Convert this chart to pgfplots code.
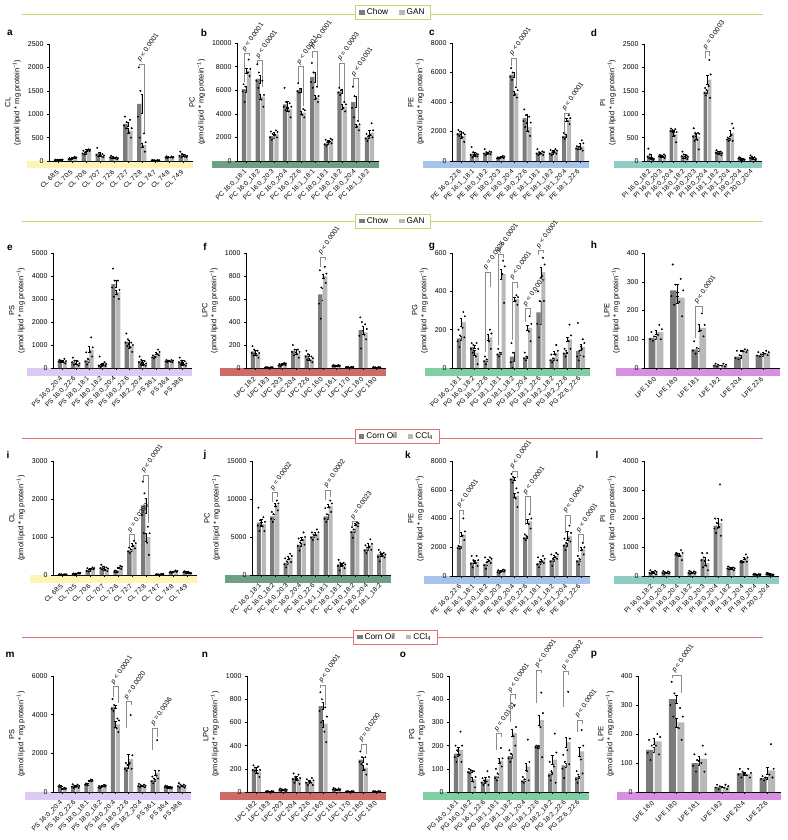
\documentclass[border=0pt]{standalone}
\usepackage{pgfplots}
\pgfplotsset{compat=1.18}
\usepackage{pgfplotstable}
\usepackage{fontspec}
\setmainfont{Liberation Sans}

\definecolor{dk}{HTML}{7B7B7B}
\definecolor{lt}{HTML}{B9B9B9}
\definecolor{bCL}{HTML}{FCF5B3}
\definecolor{bPC}{HTML}{6F9E87}
\definecolor{bPE}{HTML}{A7C3EA}
\definecolor{bPI}{HTML}{8FCDC4}
\definecolor{bPS}{HTML}{DCCAF5}
\definecolor{bLPC}{HTML}{CF6B66}
\definecolor{bPG}{HTML}{80CFA4}
\definecolor{bLPE}{HTML}{D690E0}
\definecolor{lnG}{HTML}{C9D670}
\definecolor{lnR}{HTML}{E27272}
\definecolor{brkc}{HTML}{8C8C8C}

\newcommand\unitl{(pmol lipid * mg protein\textsuperscript{−1})}
\newcommand\pl{\textit{p} < 0.0001}
\newcommand\pe[1]{\textit{p} = #1}
\newcommand\pbr[6]{\draw[brk] (axis cs:#1,#4) -- (axis cs:#1,#3) -- node[ptx]{#6} (axis cs:#2,#3) -- (axis cs:#2,#5);}

\tikzset{
  brk/.style={brkc, line width=0.5pt},
  ptx/.style={rotate=55, anchor=south west, inner sep=0.8pt, text=black, font=\fontsize{6.8}{8}\selectfont},
}

\pgfplotsset{
  lip/.style={
    scale only axis, anchor=south west, ymin=0, clip=false,
    axis x line*=bottom, axis y line*=left,
    axis line style={line width=0.5pt, black},
    xtick={0,...,9}, xmin=-0.7, xmax=9.7,
    tick align=outside, major tick length=2pt,
    tick style={black, line width=0.4pt},
    tick label style={font=\fontsize{7}{8}\selectfont},
    xticklabel style={rotate=45, anchor=east, font=\fontsize{6.6}{7}\selectfont, inner sep=1pt},
    xticklabel shift=7pt,
    ylabel style={align=center, font=\fontsize{7.5}{9}\selectfont},
    /pgf/number format/1000 sep={},
    /pgf/number format/assume math mode=true,
    scaled y ticks=false,
    bar width=0.31,
    legend image code/.code={\fill[##1] (0pt,-2.3pt) rectangle (5.5pt,2.3pt);},
  },
  dkb/.style={ybar, fill=dk, draw=none, bar shift=-0.185,
    error bars/.cd, y dir=both, y explicit,
    error bar style={black, line width=0.4pt},
    error mark options={rotate=90, mark size=1.2pt, line width=0.4pt, black}},
  ltb/.style={ybar, fill=lt, draw=none, bar shift=0.185,
    error bars/.cd, y dir=both, y explicit,
    error bar style={black, line width=0.4pt},
    error mark options={rotate=90, mark size=1.2pt, line width=0.4pt, black}},
  dotm/.style={only marks, mark=*, mark size=0.75pt, black, forget plot},
  fCL/.style={xticklabels={CL 68:5, CL 70:5, CL 70:6, CL 70:7, CL 72:6, CL 72:7, CL 72:8, CL 74:7, CL 74:8, CL 74:9}, ylabel={CL\\\unitl}},
  fPC/.style={xticklabels={PC 16:0\_18:1, PC 16:0\_18:2, PC 16:0\_20:3, PC 16:0\_20:4, PC 16:0\_22:6, PC 16:1\_18:1, PC 18:0\_18:1, PC 18:0\_18:2, PC 18:0\_20:4, PC 18:1\_18:2}, ylabel={PC\\\unitl}},
  fPE/.style={xticklabels={PE 16:0\_22:6, PE 16:1\_18:1, PE 18:0\_18:2, PE 18:0\_20:3, PE 18:0\_20:4, PE 18:0\_22:6, PE 18:1\_18:1, PE 18:1\_18:2, PE 18:1\_20:4, PE 18:1\_22:6}, ylabel={PE\\\unitl}},
  fPI/.style={xticklabels={PI 16:0\_18:2, PI 16:0\_20:3, PI 16:0\_20:4, PI 18:0\_18:2, PI 18:0\_20:3, PI 18:0\_20:4, PI 18:1\_18:2, PI 18:1\_20:4, PI 19:0\_20:4, PI 20:0\_20:4}, ylabel={PI\\\unitl}},
  fPS/.style={xticklabels={PS 16:0\_20:4, PS 16:0\_22:6, PS 18:0\_18:1, PS 18:0\_18:2, PS 18:0\_20:4, PS 18:0\_22:6, PS 18:2\_20:4, PS 36:1, PS 36:4, PS 38:6}, ylabel={PS\\\unitl}},
  fLPC/.style={xticklabels={LPC 18:2, LPC 18:3, LPC 20:3, LPC 20:4, LPC 22:6, LPC 16:0, LPC 16:1, LPC 17:0, LPC 18:0, LPC 19:0}, ylabel={LPC\\\unitl}},
  fPG/.style={xticklabels={PG 16:0\_18:1, PG 16:0\_18:2, PG 16:1\_22:6, PG 18:1\_18:1, PG 18:1\_18:2, PG 18:1\_20:4, PG 18:1\_22:6, PG 18:2\_18:2, PG 18:2\_22:6, PG 22:6\_22:6}, ylabel={PG\\\unitl}},
  fLPE/.style={xtick={0,...,5}, xticklabels={LPE 16:0, LPE 18:0, LPE 18:1, LPE 18:2, LPE 20:4, LPE 22:6}, ylabel={LPE\\\unitl}},
  legG/.style={legend columns=2, legend style={anchor=center, draw=lnG, line width=0.8pt, fill=white, font=\fontsize{8.3}{9}\selectfont, inner xsep=4pt, inner ysep=1.2pt, /tikz/every even column/.append style={column sep=9pt}}},
  legR/.style={legend columns=2, legend style={anchor=center, draw=lnR, line width=0.8pt, fill=white, font=\fontsize{8.3}{9}\selectfont, inner xsep=4pt, inner ysep=1.2pt, /tikz/every even column/.append style={column sep=9pt}}},
}

% dots: four readings per bar, drawn with a small fixed horizontal spread
\newcommand\dotsp[1]{%
\addplot[dotm] table[x expr=\thisrow{x}-0.145, y=c1] {#1};
\addplot[dotm] table[x expr=\thisrow{x}-0.275, y=c2] {#1};
\addplot[dotm] table[x expr=\thisrow{x}-0.095, y=c3] {#1};
\addplot[dotm] table[x expr=\thisrow{x}-0.215, y=c4] {#1};
\addplot[dotm] table[x expr=\thisrow{x}+0.225, y=g1] {#1};
\addplot[dotm] table[x expr=\thisrow{x}+0.095, y=g2] {#1};
\addplot[dotm] table[x expr=\thisrow{x}+0.275, y=g3] {#1};
\addplot[dotm] table[x expr=\thisrow{x}+0.155, y=g4] {#1};
}
\newcommand\bars[1]{%
\addplot[dkb] table[x=x,y=c,y error=ce] {#1};
\addplot[ltb] table[x=x,y=g,y error=ge] {#1};
}

\pgfplotstableread{
x c ce g ge c1 c2 c3 c4 g1 g2 g3 g4
0 20 3 25 3 15 18 24 30 20 24 27 30
1 40 5 70 8 30 38 45 60 60 66 75 90
2 170 15 230 12 140 160 185 220 210 225 240 250
3 160 25 110 15 100 130 175 280 80 100 120 150
4 80 10 60 8 60 75 90 110 40 55 65 80
5 790 40 650 50 700 760 830 950 500 600 700 880
6 1220 200 340 50 500 950 1500 2000 200 300 400 590
7 15 2 15 2 10 14 17 20 10 14 16 20
8 80 8 80 6 60 75 90 100 70 78 85 95
9 130 20 100 8 80 110 150 200 80 95 105 120
}\tA
\pgfplotstableread{
x c ce g ge c1 c2 c3 c4 g1 g2 g3 g4
0 6100 250 7650 200 5000 5900 6300 6500 7200 7500 7800 8600
1 6950 350 5450 250 6200 6800 7500 8200 4600 5200 5600 6800
2 2100 150 2300 100 1800 2000 2300 2500 2000 2200 2450 2600
3 4800 300 4400 200 4300 4600 5000 6200 3700 4200 4600 4900
4 6000 150 4100 150 5800 5900 6100 6600 3700 3900 4300 4400
5 7100 400 5400 200 6200 6700 7500 8300 5000 5300 5500 6300
6 1500 100 1700 100 1300 1400 1600 1800 1500 1650 1800 1900
7 5900 150 4600 200 5600 5800 6000 6200 4200 4500 4800 5000
8 5000 450 3000 150 3700 4500 5500 6300 2600 2900 3100 3400
9 2000 100 2400 200 1700 1900 2100 2300 2000 2200 2600 3200
}\tB
\pgfplotstableread{
x c ce g ge c1 c2 c3 c4 g1 g2 g3 g4
0 1900 100 1680 120 1700 1800 2000 2100 1300 1600 1800 1900
1 500 80 400 50 250 400 600 950 300 350 450 500
2 550 60 550 50 400 500 600 800 450 500 600 650
3 200 20 280 30 150 180 220 250 200 250 300 350
4 5850 200 4600 150 5500 5700 6000 6300 4300 4500 4800 5000
5 2900 250 2300 250 2300 2700 3100 3500 1700 2000 2600 3000
6 550 60 550 50 400 500 600 800 400 500 600 650
7 550 60 650 60 400 500 600 750 500 600 700 800
8 1700 100 2800 120 1500 1600 1800 1900 2500 2700 2900 3100
9 900 80 1000 200 800 850 950 1000 700 850 1200 1400
}\tC
\pgfplotstableread{
x c ce g ge c1 c2 c3 c4 g1 g2 g3 g4
0 120 30 40 10 60 90 140 265 20 30 45 60
1 110 10 100 15 90 100 120 130 60 90 110 140
2 650 15 570 40 630 640 660 690 400 540 620 680
3 120 25 80 15 60 100 140 200 40 70 90 120
4 560 40 520 60 430 520 600 700 250 450 580 600
5 1480 30 1740 90 1400 1450 1520 1560 1350 1600 1850 2160
6 190 15 160 15 160 180 200 230 120 150 170 200
7 470 20 600 60 430 460 480 500 430 550 700 800
8 60 8 30 5 40 55 65 80 20 28 32 40
9 80 10 40 8 50 70 90 120 20 35 45 80
}\tD
\pgfplotstableread{
x c ce g ge c1 c2 c3 c4 g1 g2 g3 g4
0 300 20 280 40 250 280 320 350 200 250 300 400
1 280 50 180 30 150 250 320 450 100 150 200 300
2 330 60 800 130 150 280 400 680 500 700 900 1330
3 150 60 150 30 50 100 150 500 80 130 170 250
4 3650 150 3300 100 3100 3500 3800 4320 3000 3200 3400 3800
5 1150 60 950 80 950 1100 1250 1500 700 900 1000 1100
6 300 40 170 30 150 250 350 500 100 150 200 300
7 480 20 650 50 420 460 500 550 550 600 700 800
8 300 20 300 20 250 280 320 350 250 280 320 350
9 280 40 170 30 150 250 320 450 100 150 200 300
}\tE
\pgfplotstableread{
x c ce g ge c1 c2 c3 c4 g1 g2 g3 g4
0 145 12 120 10 110 130 160 190 90 110 130 150
1 5 1 5 1 3 4 6 8 3 4 6 8
2 25 4 35 4 15 22 28 35 25 32 38 45
3 150 12 130 10 110 140 160 200 90 120 140 160
4 110 10 75 8 70 100 120 150 50 65 85 100
5 640 50 800 20 430 560 700 850 740 780 820 880
6 20 2 20 2 15 18 22 25 15 18 22 25
7 8 1 8 1 5 7 9 10 5 7 9 10
8 330 35 310 20 170 280 400 440 250 290 340 380
9 5 1 5 1 3 4 6 8 3 4 6 8
}\tF
\pgfplotstableread{
x c ce g ge c1 c2 c3 c4 g1 g2 g3 g4
0 155 12 240 20 110 140 170 200 160 210 270 292
1 110 8 80 15 80 100 120 130 20 60 100 130
2 40 5 160 15 20 35 45 60 100 140 180 200
3 75 5 490 25 60 70 80 100 340 490 530 560
4 60 25 360 12 0 30 80 130 330 350 370 380
5 55 5 210 15 40 50 60 80 140 190 230 270
6 290 60 500 25 160 230 350 400 350 480 540 575
7 45 5 80 10 30 40 50 70 40 70 90 120
8 80 5 150 12 60 75 90 100 100 140 170 226
9 90 25 110 15 40 60 90 235 60 100 130 150
}\tG
\pgfplotstableread{
x c ce g ge c1 c2 c3 c4 g1 g2 g3 g4
0 105 5 125 8 95 100 110 125 100 115 135 150
1 270 20 245 20 220 250 290 360 180 230 270 310
2 65 5 140 12 50 60 70 93 110 130 150 190
3 10 1 10 1 5 8 12 15 5 8 12 15
4 40 5 60 2 30 35 45 60 55 58 62 65
5 45 4 52 3 40 43 48 55 45 50 55 60
}\tH
\pgfplotstableread{
x c ce g ge c1 c2 c3 c4 g1 g2 g3 g4
0 15 2 15 2 10 13 17 20 10 13 17 20
1 30 4 50 5 20 28 35 40 40 45 55 60
2 130 20 170 10 90 110 150 180 150 160 180 200
3 200 20 150 20 150 180 220 270 100 130 170 200
4 90 10 200 15 70 85 100 120 160 190 220 240
5 650 30 800 40 580 620 680 720 700 760 840 900
6 1830 200 1000 100 1100 1580 2150 2456 530 850 1100 1270
7 15 2 25 3 10 13 17 20 20 23 27 30
8 70 8 100 8 50 65 80 90 80 95 105 120
9 80 8 50 5 60 75 85 100 40 45 55 60
}\tI
\pgfplotstableread{
x c ce g ge c1 c2 c3 c4 g1 g2 g3 g4
0 6900 400 6700 300 5800 6500 7200 8860 5800 6400 7000 7600
1 7700 300 9200 200 7000 7400 8000 8300 8500 9000 9400 9800
2 1600 150 2300 200 1000 1400 1800 2200 1700 2100 2500 2800
3 4000 200 4800 200 3200 3800 4300 4800 4000 4600 5000 5600
4 5100 150 5400 200 4600 4900 5300 5600 4700 5200 5600 6000
5 7700 300 9100 200 7000 7400 8000 8800 8300 8900 9400 9800
6 1400 150 1300 150 600 1200 1600 2000 900 1200 1400 1600
7 5800 200 6700 100 4900 5600 6000 6300 6400 6600 6800 6900
8 3400 200 3900 250 2900 3200 3600 3900 3300 3700 4100 4700
9 2700 200 2600 100 1800 2400 3000 3300 2300 2500 2700 2900
}\tJ
\pgfplotstableread{
x c ce g ge c1 c2 c3 c4 g1 g2 g3 g4
0 2000 80 2900 150 1900 1950 2050 2100 2500 2800 3100 4010
1 950 80 1000 80 600 850 1100 1400 700 900 1100 1400
2 850 80 1100 60 500 750 950 1300 900 1050 1200 1300
3 300 30 370 30 200 270 330 400 300 350 400 450
4 6800 100 5600 150 6500 6700 6900 7100 4800 5400 5800 6100
5 2700 100 3800 150 2500 2600 2800 2900 3300 3600 4000 4300
6 900 80 1100 50 600 800 1000 1300 900 1000 1200 1400
7 1100 100 1400 60 700 1000 1200 1500 1200 1300 1500 1600
8 2200 100 2800 300 1800 2100 2300 2600 2400 2600 3000 3500
9 1100 80 1900 100 800 1000 1200 1400 1500 1800 2000 2300
}\tK
\pgfplotstableread{
x c ce g ge c1 c2 c3 c4 g1 g2 g3 g4
0 130 20 120 15 80 110 150 200 60 100 140 180
1 120 15 120 10 80 110 140 170 80 110 130 160
2 760 20 750 50 720 750 780 800 550 700 800 900
3 130 15 120 10 80 110 150 180 80 110 130 160
4 600 50 450 60 300 550 650 800 200 350 550 800
5 1750 70 1850 150 1500 1650 1850 2000 1400 1700 1950 3186
6 280 20 250 20 230 260 300 330 200 240 270 300
7 500 20 620 40 470 490 510 530 500 580 650 750
8 60 8 50 5 40 55 65 80 30 45 55 70
9 80 10 40 5 50 70 90 110 20 35 45 60
}\tL
\pgfplotstableread{
x c ce g ge c1 c2 c3 c4 g1 g2 g3 g4
0 300 20 180 15 250 280 320 350 150 170 190 220
1 300 30 300 25 200 270 330 400 220 280 320 380
2 400 30 600 30 350 380 420 450 550 580 620 650
3 250 20 320 20 200 240 270 320 270 300 340 370
4 4400 80 3500 150 4200 4300 4500 4810 3100 3300 3700 3800
5 1300 80 1700 250 1100 1200 1400 1500 1200 1500 1900 3980
6 330 30 310 25 250 300 360 420 250 290 330 380
7 620 60 1000 150 450 550 700 800 700 850 1100 2680
8 280 20 220 15 230 260 300 330 180 200 240 260
9 330 40 300 25 230 300 380 460 230 280 320 380
}\tM
\pgfplotstableread{
x c ce g ge c1 c2 c3 c4 g1 g2 g3 g4
0 200 12 175 15 180 190 210 230 130 160 190 220
1 5 1 5 1 3 4 6 8 3 4 6 8
2 20 3 15 3 10 17 23 30 8 13 18 25
3 120 12 110 10 80 110 130 160 70 100 120 150
4 85 8 90 8 60 80 95 110 60 80 100 120
5 740 30 590 30 600 700 800 860 430 520 650 730
6 25 3 20 3 15 22 28 35 15 18 22 30
7 5 1 5 1 3 4 6 8 3 4 6 8
8 280 20 210 25 240 260 300 350 150 190 240 300
9 5 1 5 1 3 4 6 8 3 4 6 8
}\tN
\pgfplotstableread{
x c ce g ge c1 c2 c3 c4 g1 g2 g3 g4
0 165 10 180 15 130 150 180 200 130 160 200 260
1 90 5 55 8 80 85 95 100 20 45 65 90
2 45 5 55 8 30 40 50 60 30 45 65 90
3 70 8 135 10 50 60 80 100 110 125 145 190
4 155 8 255 15 130 145 165 180 200 240 280 372
5 50 5 110 15 40 45 55 65 50 90 130 226
6 195 5 310 20 190 193 197 200 150 280 340 428
7 80 5 140 20 50 70 90 130 40 110 170 252
8 115 10 215 20 60 100 130 160 120 180 230 432
9 65 5 175 20 40 55 75 90 80 140 200 267
}\tO
\pgfplotstableread{
x c ce g ge c1 c2 c3 c4 g1 g2 g3 g4
0 145 8 175 10 110 135 160 180 130 160 190 200
1 320 15 240 15 260 300 340 380 180 220 260 290
2 100 8 115 8 70 90 110 130 70 100 130 160
3 18 2 18 2 10 15 20 25 10 15 20 25
4 65 4 62 4 50 60 70 80 50 58 66 80
5 48 3 75 12 40 45 50 55 50 60 80 165
}\tP

\begin{document}
\begin{tikzpicture}
\path (0pt,0pt) rectangle (787pt,-840pt);
% section lines
\draw[lnG, line width=0.9pt] (22pt,-14pt) -- (763pt,-14pt);
\draw[lnG, line width=0.9pt] (22pt,-221pt) -- (763pt,-221pt);
\draw[lnR, line width=0.9pt] (22pt,-438pt) -- (763pt,-438pt);
\draw[lnR, line width=0.9pt] (22pt,-637pt) -- (763pt,-637pt);
% colour bands
\fill[bCL] (27pt,-161pt) rectangle (193pt,-168pt);
\fill[bPC] (212pt,-161pt) rectangle (379pt,-168pt);
\fill[bPE] (423pt,-161pt) rectangle (589pt,-168pt);
\fill[bPI] (614pt,-161pt) rectangle (762pt,-168pt);
\fill[bPS] (27pt,-368pt) rectangle (192pt,-376pt);
\fill[bLPC] (220pt,-368pt) rectangle (386pt,-376pt);
\fill[bPG] (425pt,-368pt) rectangle (590pt,-376pt);
\fill[bLPE] (616pt,-368pt) rectangle (780pt,-376pt);
\fill[bCL] (30pt,-575pt) rectangle (197pt,-583pt);
\fill[bPC] (225pt,-575pt) rectangle (391pt,-583pt);
\fill[bPE] (424pt,-576pt) rectangle (590pt,-584pt);
\fill[bPI] (614pt,-576pt) rectangle (779pt,-584pt);
\fill[bPS] (25pt,-792pt) rectangle (191pt,-800pt);
\fill[bLPC] (220pt,-792pt) rectangle (386pt,-800pt);
\fill[bPG] (423pt,-792pt) rectangle (589pt,-800pt);
\fill[bLPE] (617pt,-792pt) rectangle (781pt,-800pt);
% panel letters
\begin{scope}[every node/.style={font=\bfseries\fontsize{10}{12}\selectfont}]
\node at (10pt,-33pt) {a}; \node at (204pt,-33pt) {b}; \node at (432pt,-33pt) {c}; \node at (594pt,-33pt) {d};
\node at (10pt,-248pt) {e}; \node at (205pt,-247pt) {f}; \node at (432pt,-247pt) {g}; \node at (594pt,-245pt) {h};
\node at (8pt,-455pt) {i}; \node at (205pt,-455pt) {j}; \node at (408pt,-455pt) {k}; \node at (597pt,-455pt) {l};
\node at (10pt,-655pt) {m}; \node at (205pt,-655pt) {n}; \node at (403pt,-655pt) {o}; \node at (594pt,-655pt) {p};
\end{scope}

% ---------- a
\begin{axis}[lip, fCL, at={(49pt,-161pt)}, width=144pt, height=117pt, ymax=2500, ytick={0,500,...,2500}]
\bars{\tA}\dotsp{\tA}
\pbr{5.815}{6.185}{2073}{2020}{600}{\pl}
\end{axis}
% ---------- b
\begin{axis}[lip, fPC, legG, legend style={at={(1.099,1.258)}}, at={(237pt,-161pt)}, width=142pt, height=118pt, ymax=10000, ytick={0,2000,...,10000}]
\addplot[dkb] table[x=x,y=c,y error=ce] {\tB}; \addlegendentry{Chow}
\addplot[ltb] table[x=x,y=g,y error=ge] {\tB}; \addlegendentry{GAN}
\dotsp{\tB}
\pbr{-0.185}{0.185}{9100}{6700}{8900}{\pl}
\pbr{0.815}{1.185}{8500}{8300}{6300}{\pl}
\pbr{3.815}{4.185}{8000}{6600}{4700}{\pl}
\pbr{4.815}{5.185}{9300}{8700}{6200}{\pl}
\pbr{6.815}{7.185}{8300}{6300}{5100}{\pe{0.0003}}
\pbr{7.815}{8.185}{7000}{6300}{3500}{\pl}
\end{axis}
% ---------- c
\begin{axis}[lip, fPE, at={(452pt,-161pt)}, width=137pt, height=118pt, ymax=8000, ytick={0,2000,...,8000}]
\bars{\tC}\dotsp{\tC}
\pbr{3.815}{4.185}{7000}{6450}{5100}{\pl}
\pbr{7.815}{8.185}{3250}{2000}{3150}{\pl}
\end{axis}
% ---------- d
\begin{axis}[lip, fPI, at={(644pt,-161pt)}, width=118pt, height=117pt, ymax=2500, ytick={0,500,...,2500}, xmin=-0.6, xmax=9.8]
\bars{\tD}\dotsp{\tD}
\pbr{4.815}{5.185}{2340}{2200}{2250}{\pe{0.0003}}
\end{axis}
% ---------- e
\begin{axis}[lip, fPS, at={(53pt,-368pt)}, width=139pt, height=115pt, ymax=5000, ytick={0,1000,...,5000}]
\bars{\tE}\dotsp{\tE}
\end{axis}
% ---------- f
\begin{axis}[lip, fLPC, legG, legend style={at={(1.05,1.278)}}, at={(246pt,-368pt)}, width=140pt, height=115pt, ymax=1000, ytick={0,200,...,1000}]
\addplot[dkb] table[x=x,y=c,y error=ce] {\tF}; \addlegendentry{Chow}
\addplot[ltb] table[x=x,y=g,y error=ge] {\tF}; \addlegendentry{GAN}
\dotsp{\tF}
\pbr{4.815}{5.185}{965}{880}{937}{\pl}
\end{axis}
% ---------- g
\begin{axis}[lip, fPG, at={(452pt,-368pt)}, width=138pt, height=115pt, ymax=600, ytick={0,200,...,600}]
\bars{\tG}\dotsp{\tG}
\pbr{1.815}{2.185}{502}{85}{424}{\pe{0.0025}}
\pbr{2.815}{3.185}{593}{120}{572}{\pl}
\pbr{3.815}{4.185}{450}{146}{415}{\pl}
\pbr{4.815}{5.185}{311}{242}{276}{\pl}
\pbr{5.815}{6.185}{612}{590}{600}{\pl}
\end{axis}
% ---------- h
\begin{axis}[lip, fLPE, at={(644pt,-368pt)}, width=136pt, height=115pt, ymax=400, ytick={0,100,...,400}, xmin=-0.56, xmax=5.8]
\bars{\tH}\dotsp{\tH}
\pbr{1.815}{2.185}{215}{104}{195}{\pl}
\end{axis}
% ---------- i
\begin{axis}[lip, fCL, at={(53pt,-575pt)}, width=144pt, height=114pt, ymax=3000, ytick={0,1000,...,3000}]
\bars{\tI}\dotsp{\tI}
\pbr{4.815}{5.185}{1070}{750}{920}{\pe{0.0399}}
\pbr{5.815}{6.185}{2630}{2480}{1360}{\pl}
\end{axis}
% ---------- j
\begin{axis}[lip, fPC, legR, legend style={at={(1.043,1.215)}}, at={(252pt,-575pt)}, width=139pt, height=114pt, ymax=15000, ytick={0,5000,10000,15000}]
\addplot[dkb] table[x=x,y=c,y error=ce] {\tJ}; \addlegendentry{Corn Oil}
\addplot[ltb] table[x=x,y=g,y error=ge] {\tJ}; \addlegendentry{CCl\textsubscript{4}}
\dotsp{\tJ}
\pbr{0.815}{1.185}{10830}{9650}{10300}{\pe{0.0002}}
\pbr{4.815}{5.185}{11180}{9870}{10300}{\pe{0.0002}}
\pbr{6.815}{7.185}{7020}{6400}{7000}{\pe{0.0023}}
\end{axis}
% ---------- k
\begin{axis}[lip, fPE, at={(452pt,-576pt)}, width=138pt, height=115pt, ymax=8000, ytick={0,2000,...,8000}]
\bars{\tK}\dotsp{\tK}
\pbr{-0.185}{0.185}{4590}{2200}{4250}{\pl}
\pbr{3.815}{4.185}{7300}{7150}{6800}{\pl}
\pbr{4.815}{5.185}{5520}{3550}{4400}{\pl}
\pbr{7.815}{8.185}{4250}{2970}{3600}{\pl}
\pbr{8.815}{9.185}{2900}{1690}{2350}{\pl}
\end{axis}
% ---------- l
\begin{axis}[lip, fPI, at={(644pt,-576pt)}, width=135pt, height=115pt, ymax=4000, ytick={0,1000,...,4000}]
\bars{\tL}\dotsp{\tL}
\end{axis}
% ---------- m
\begin{axis}[lip, fPS, at={(53pt,-792pt)}, width=138pt, height=116pt, ymax=6000, ytick={0,2000,...,6000}]
\bars{\tM}\dotsp{\tM}
\pbr{3.815}{4.185}{5450}{4930}{4580}{\pl}
\pbr{4.815}{5.185}{4670}{3290}{4500}{\pe{0.0020}}
\pbr{6.815}{7.185}{3320}{2160}{2850}{\pe{0.0036}}
\end{axis}
% ---------- n
\begin{axis}[lip, fLPC, legR, legend style={at={(1.065,1.336)}}, at={(247pt,-792pt)}, width=139pt, height=116pt, ymax=1000, ytick={0,200,...,1000}]
\addplot[dkb] table[x=x,y=c,y error=ce] {\tN}; \addlegendentry{Corn Oil}
\addplot[ltb] table[x=x,y=g,y error=ge] {\tN}; \addlegendentry{CCl\textsubscript{4}}
\dotsp{\tN}
\pbr{4.815}{5.185}{922}{893}{749}{\pl}
\pbr{7.815}{8.185}{412}{360}{331}{\pe{0.0200}}
\end{axis}
% ---------- o
\begin{axis}[lip, fPG, at={(449pt,-792pt)}, width=140pt, height=116pt, ymax=500, ytick={0,100,...,500}]
\bars{\tO}\dotsp{\tO}
\pbr{2.815}{3.185}{252}{180}{238}{\pe{0.0161}}
\pbr{3.815}{4.185}{421}{303}{403}{\pl}
\pbr{5.815}{6.185}{526}{382}{512}{\pl}
\pbr{7.815}{8.185}{519}{367}{504}{\pe{0.0002}}
\pbr{8.815}{9.185}{310}{259}{295}{\pl}
\end{axis}
% ---------- p
\begin{axis}[lip, fLPE, at={(638pt,-792pt)}, width=143pt, height=116pt, ymax=400, ytick={0,100,...,400}, xmin=-0.7, xmax=5.6]
\bars{\tP}\dotsp{\tP}
\pbr{0.815}{1.185}{403}{392}{340}{\pl}
\end{axis}
\end{tikzpicture}
\end{document}
